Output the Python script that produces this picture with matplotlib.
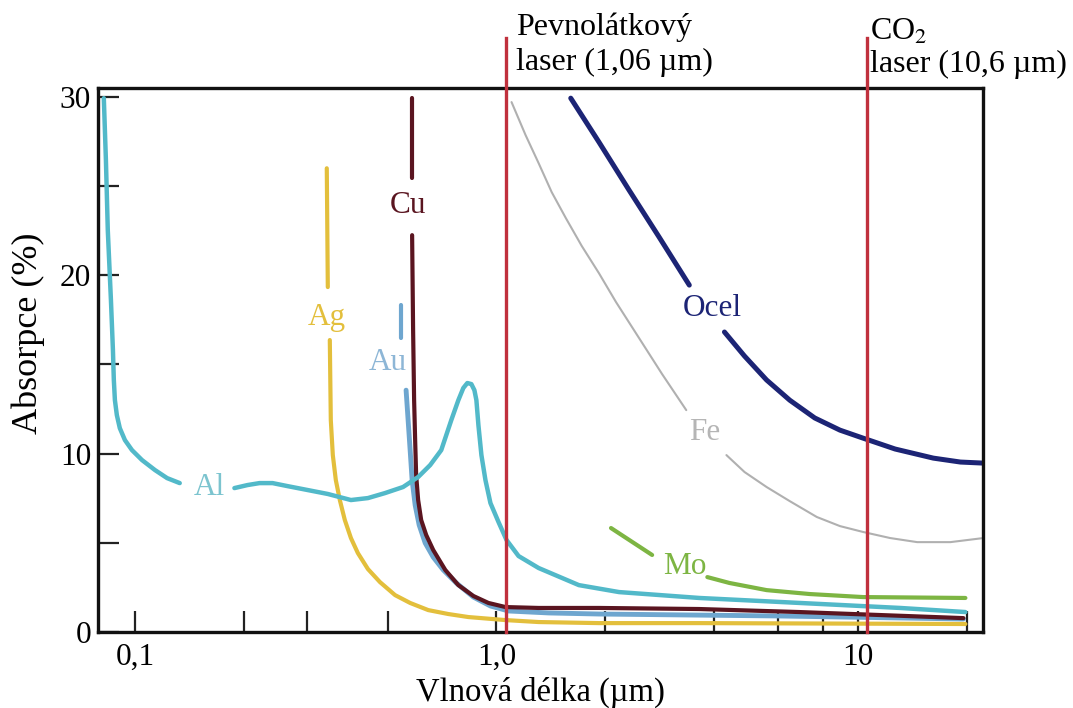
import numpy as np
import matplotlib
matplotlib.use("Agg")
import matplotlib.pyplot as plt

plt.rcParams['font.family'] = ['Liberation Serif', 'DejaVu Serif']
plt.rcParams['mathtext.fontset'] = 'stix'

# wavelength [um] / absorption [%]
al_x1 = [0.0820, 0.0831, 0.0841, 0.0858, 0.0869, 0.0874, 0.0880, 0.0891, 0.0908, 0.0938,
         0.0981, 0.1046, 0.1136, 0.1227, 0.1330]
al_y1 = [29.93, 26.46, 22.53, 18.61, 15.81, 14.13, 13.0, 12.16, 11.43, 10.76,
         10.2, 9.64, 9.08, 8.63, 8.35]
al_x2 = [0.1884, 0.2048, 0.2211, 0.2402, 0.2643, 0.3005, 0.3415, 0.3957, 0.4410, 0.4916,
         0.5516, 0.6072, 0.6555, 0.7035, 0.7499, 0.7844, 0.8096, 0.8306, 0.8522, 0.8688,
         0.8799, 0.8913, 0.9085, 0.9321, 0.9623, 1.0129, 1.0660, 1.1510, 1.3077, 1.6901,
         2.1827, 3.639, 6.902, 13.08, 19.82]
al_y2 = [8.07, 8.24, 8.35, 8.35, 8.18, 7.96, 7.74, 7.40, 7.51, 7.79,
         8.13, 8.69, 9.36, 10.2, 11.88, 13.0, 13.68, 13.96, 13.9, 13.56,
         13.0, 11.6, 9.92, 8.52, 7.23, 6.17, 5.16, 4.26, 3.59, 2.63,
         2.24, 1.91, 1.63, 1.35, 1.12]

ag_x1 = [0.3393, 0.3415]
ag_y1 = [26.0, 19.34]
ag_x2 = [0.3459, 0.3481, 0.3526, 0.3594, 0.3687, 0.3806, 0.3957, 0.4135, 0.4410, 0.4761,
         0.5242, 0.5770, 0.6475, 0.7356, 0.8360, 1.0593, 1.3077, 1.9204, 3.639, 19.82]
ag_y2 = [16.37, 11.88, 9.92, 8.52, 7.40, 6.28, 5.27, 4.43, 3.53, 2.80,
         2.07, 1.63, 1.23, 1.01, 0.84, 0.67, 0.56, 0.50, 0.50, 0.45]

cu_x1 = [0.5843, 0.5843]
cu_y1 = [29.93, 25.45]
cu_x2 = [0.5843, 0.5880, 0.5918, 0.5957, 0.5995, 0.6072, 0.6190, 0.6391, 0.6683, 0.7217,
         0.7844, 0.8633, 0.9501, 1.0593, 1.3077, 1.9204, 3.639, 6.902, 19.57]
cu_y2 = [22.25, 16.93, 13.0, 10.76, 8.80, 7.40, 6.28, 5.44, 4.60, 3.48,
         2.63, 2.02, 1.63, 1.40, 1.35, 1.35, 1.29, 1.12, 0.78]

au_x1 = [0.5446, 0.5446]
au_y1 = [18.33, 16.48]
au_x2 = [0.5623, 0.5696, 0.5770, 0.5843, 0.5957, 0.6111, 0.6351, 0.6683, 0.7125, 0.7743,
         0.8633, 0.9623, 1.0798, 1.3946, 1.9204, 6.07, 19.57]
au_y2 = [13.56, 11.88, 10.2, 8.52, 7.12, 6.0, 4.99, 4.20, 3.48, 2.75,
         1.96, 1.46, 1.18, 1.07, 1.01, 0.90, 0.73]

fe_x1 = [1.1007, 1.2036, 1.3077, 1.4216, 1.5552, 1.7218, 1.9204, 2.1411, 2.4800, 2.8722, 3.3497]
fe_y1 = [29.71, 27.86, 26.29, 24.66, 23.21, 21.64, 20.12, 18.50, 16.48, 14.46, 12.44]
fe_x2 = [4.326, 4.855, 5.587, 6.474, 7.692, 8.913, 10.33, 12.27, 14.58, 18.01, 22.24]
fe_y2 = [9.92, 8.97, 8.13, 7.34, 6.45, 5.94, 5.61, 5.27, 5.04, 5.04, 5.27]

ocel_x1 = [1.605, 1.9204, 2.326, 2.818, 3.415]
ocel_y1 = [29.93, 27.47, 24.78, 22.14, 19.45]
ocel_x2 = [4.272, 4.855, 5.587, 6.474, 7.595, 8.913, 10.33, 12.67, 16.16, 19.20, 22.24]
ocel_y2 = [16.82, 15.47, 14.13, 13.0, 12.0, 11.32, 10.87, 10.26, 9.75, 9.53, 9.47]

mo_x1 = [2.074, 2.695]
mo_y1 = [5.83, 4.32]
mo_x2 = [3.831, 4.411, 5.587, 7.356, 10.33, 19.82]
mo_y2 = [3.08, 2.75, 2.35, 2.13, 1.96, 1.91]

laser_x = [1.06, 10.6]

# curve labels: text, x, y, colour
labels = [("Al", 0.1606, 8.1, "#7cc4cf"),
          ("Ag", 0.339, 17.66, "#e3bf3c"),
          ("Cu", 0.5696, 23.93, "#5a1520"),
          ("Au", 0.501, 15.13, "#8db6d6"),
          ("Fe", 3.758, 11.21, "#b5b5b5"),
          ("Ocel", 3.956, 18.16, "#1c2475"),
          ("Mo", 3.329, 3.70, "#7db543")]

fig = plt.figure(figsize=(10.73, 7.08), dpi=100)
ax = fig.add_axes([0.0913, 0.1073, 0.825, 0.7684])

c_al = "#52b9c9"
c_ag = "#e3bf3c"
c_cu = "#5a1520"
c_au = "#6ea6cf"
c_fe = "#b0b0b0"
c_ocel = "#1c2475"
c_mo = "#7db543"

kw = dict(solid_capstyle='round', solid_joinstyle='round')
ax.plot(ag_x1, ag_y1, color=c_ag, lw=3, **kw)
ax.plot(ag_x2, ag_y2, color=c_ag, lw=3, **kw)
ax.plot(au_x1, au_y1, color=c_au, lw=3, **kw)
ax.plot(au_x2, au_y2, color=c_au, lw=3.5, **kw)
ax.plot(cu_x1, cu_y1, color=c_cu, lw=3, **kw)
ax.plot(cu_x2, cu_y2, color=c_cu, lw=3, **kw)
ax.plot(al_x1, al_y1, color=c_al, lw=3.2, **kw)
ax.plot(al_x2, al_y2, color=c_al, lw=3.2, **kw)
ax.plot(fe_x1, fe_y1, color=c_fe, lw=1.5, **kw)
ax.plot(fe_x2, fe_y2, color=c_fe, lw=1.5, **kw)
ax.plot(ocel_x1, ocel_y1, color=c_ocel, lw=3.6, **kw)
ax.plot(ocel_x2, ocel_y2, color=c_ocel, lw=3.6, **kw)
ax.plot(mo_x1, mo_y1, color=c_mo, lw=3, **kw)
ax.plot(mo_x2, mo_y2, color=c_mo, lw=3, **kw)

for t, x, y, c in labels:
    ax.text(x, y, t, color=c, fontsize=22.5, ha='center', va='center')

for lx in laser_x:
    ax.axvline(lx, ymin=0, ymax=1.092, color="#c0313d", lw=2.4, clip_on=False, zorder=5)

tr = ax.get_xaxis_transform()
ax.text(1.13, 1.097, "Pevnolátkový", transform=tr, fontsize=23, ha='left', va='baseline')
ax.text(1.13, 1.033, "laser (1,06 µm)", transform=tr, fontsize=23, ha='left', va='baseline')
ax.text(10.8, 1.088, "CO$_2$", transform=tr, fontsize=23, ha='left', va='baseline')
ax.text(10.8, 1.029, "laser (10,6 µm)", transform=tr, fontsize=23, ha='left', va='baseline')

ax.set_xscale('log')
ax.set_xlim(0.079, 22.2)
ax.set_ylim(0, 30.5)

ax.set_xticks([0.1, 1.0, 10])
ax.set_xticklabels(["0,1", "1,0", "10"])
ax.set_xticks([0.2, 0.3, 0.5, 2, 4, 6, 8, 20], minor=True)
ax.set_xticklabels([], minor=True)
ax.set_yticks([0, 10, 20, 30])
ax.set_yticks([5, 15, 25], minor=True)

ax.tick_params(which='both', direction='in', length=15, width=1.6, color="#222222",
               labelsize=22.5, top=False, right=False)
ax.tick_params(axis='x', pad=8)
ax.tick_params(axis='y', pad=5)

for s in ax.spines.values():
    s.set_linewidth(2.4)
    s.set_color("#111111")

ax.set_xlabel("Vlnová délka (µm)", fontsize=23.5, labelpad=3)
ax.set_ylabel("Absorpce (%)", fontsize=26)
ax.yaxis.set_label_coords(-0.06, 0.55)

fig.savefig("out.png", dpi=100)
